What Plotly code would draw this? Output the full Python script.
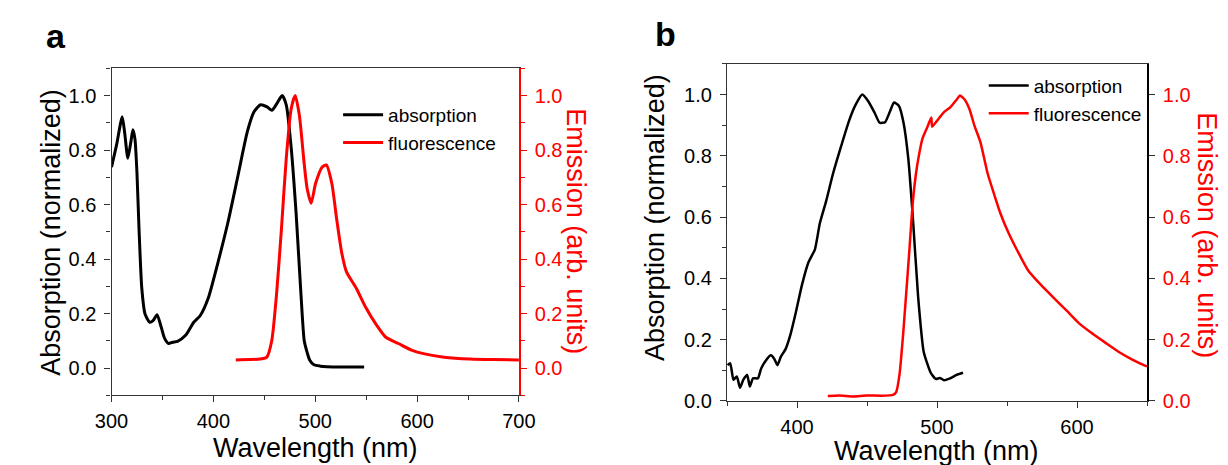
import plotly.graph_objects as go

# ---------------- data ----------------
# Panel a
abs_a_wl = [300, 305, 310.5, 313, 316, 319, 321, 323, 325, 327, 329.7, 332.9, 337.6, 341, 344.7,
            348.8, 352, 356, 360, 364.8, 372.7, 380.7, 387, 395, 404.6, 414.2, 423.8, 433.4, 439.9,
            446.3, 452.7, 457.5, 462.3, 467.5, 471.6, 476.4, 481.2, 486, 489.2, 492.3, 494.5, 498.7,
            505, 511.5, 530, 548]
abs_a = [0.737, 0.82, 0.922, 0.86, 0.77, 0.83, 0.874, 0.84, 0.713, 0.509, 0.293, 0.198, 0.168, 0.175,
         0.196, 0.15, 0.11, 0.09, 0.095, 0.098, 0.12, 0.168, 0.192, 0.257, 0.389, 0.533, 0.70, 0.868,
         0.94, 0.966, 0.958, 0.946, 0.97, 1.0, 0.965, 0.808, 0.569, 0.27, 0.10, 0.054, 0.03, 0.012,
         0.007, 0.005, 0.004, 0.004]

fl_a_wl = [422, 435, 446, 452.5, 457.3, 462, 466.8, 471.6, 476.4, 480.3, 484.4, 489.2, 492, 496,
           500.3, 506.7, 510.9, 516.3, 521.1, 525.9, 530.7, 540.3, 549.8, 559.4, 569, 581.7, 594.5,
           607.3, 626.4, 652, 675, 700]
fl_a = [0.03, 0.031, 0.033, 0.04, 0.10, 0.27, 0.51, 0.772, 0.952, 1.0, 0.928, 0.748, 0.66, 0.605,
        0.677, 0.737, 0.745, 0.677, 0.545, 0.425, 0.353, 0.293, 0.221, 0.162, 0.114, 0.09, 0.066,
        0.052, 0.04, 0.033, 0.031, 0.03]

# Panel b
abs_b_wl = [350.4, 352.3, 354.6, 357, 359.3, 361.6, 364.4, 366.3, 368.6, 372.1, 374.4, 377.9, 381.4,
            383.7, 386, 388.4, 391.9, 395.4, 398.8, 403.5, 408.1, 412.8, 416.3, 420.9, 425.6, 431.4,
            437.2, 441.9, 446.6, 451.2, 455.5, 459, 462.9, 466.3, 469.3, 472.8, 476, 479.5, 483,
            486.5, 490.5, 495.4, 499, 502, 505, 509.3, 514, 518.6]
abs_b = [0.117, 0.123, 0.069, 0.08, 0.043, 0.069, 0.085, 0.047, 0.074, 0.074, 0.106, 0.133, 0.149,
         0.138, 0.117, 0.144, 0.17, 0.218, 0.282, 0.378, 0.452, 0.495, 0.58, 0.654, 0.74, 0.83,
         0.915, 0.967, 1.0, 0.976, 0.94, 0.908, 0.91, 0.944, 0.974, 0.963, 0.91, 0.79, 0.58,
         0.34, 0.16, 0.093, 0.072, 0.075, 0.068, 0.074, 0.085, 0.092]

fl_b_wl = [422, 430, 440, 450, 460, 468.6, 470.9, 473.3, 475.6, 477.9, 480.3, 482.6, 484.9, 487,
           489.6, 493.1, 495.9, 496.5, 500.1, 504.8, 509.4, 514.1, 516.4, 519.7, 523.2, 526.7, 531,
           536, 540.7, 545.3, 551.1, 558.1, 565.1, 574.4, 583.7, 593, 602.3, 611.6, 620.9, 630.2,
           639.5, 647.7, 650]
fl_b = [0.016, 0.018, 0.015, 0.018, 0.017, 0.02, 0.03, 0.09, 0.207, 0.346, 0.495, 0.644, 0.74, 0.80,
        0.856, 0.894, 0.925, 0.895, 0.915, 0.942, 0.958, 0.984, 0.997, 0.984, 0.952, 0.899, 0.845,
        0.745, 0.676, 0.612, 0.548, 0.484, 0.426, 0.378, 0.335, 0.293, 0.25, 0.218, 0.188, 0.159,
        0.135, 0.117, 0.113]

series_names = ["absorption", "fluorescence"]
panel_labels = ["a", "b"]
x_title = "Wavelength (nm)"
y_left_title = "Absorption (normalized)"
y_right_title = "Emission (arb. units)"

# ---------------- figure ----------------
W, H = 1228, 465
FONT = "Liberation Sans, Arial, sans-serif"
BLACK = "#000000"
RED = "#ff0000"
AX = "#333333"

def px(x):
    return x / W

def py(y):
    return 1 - y / H

fig = go.Figure()
fig.add_trace(go.Scatter(x=abs_a_wl, y=abs_a, name=series_names[0], mode="lines",
                         line=dict(color=BLACK, width=3, shape="spline", smoothing=0.6),
                         xaxis="x", yaxis="y", legend="legend"))
fig.add_trace(go.Scatter(x=fl_a_wl, y=fl_a, name=series_names[1], mode="lines",
                         line=dict(color=RED, width=3, shape="spline", smoothing=0.6),
                         xaxis="x", yaxis="y2", legend="legend"))
fig.add_trace(go.Scatter(x=abs_b_wl, y=abs_b, name=series_names[0], mode="lines",
                         line=dict(color=BLACK, width=2.5, shape="spline", smoothing=0.5),
                         xaxis="x2", yaxis="y3", legend="legend2"))
fig.add_trace(go.Scatter(x=fl_b_wl, y=fl_b, name=series_names[1], mode="lines",
                         line=dict(color=RED, width=2.5, shape="spline", smoothing=0.5),
                         xaxis="x2", yaxis="y4", legend="legend2"))

tickfont = dict(family=FONT, size=20, color=BLACK)
redtickfont = dict(family=FONT, size=20, color=RED)

dom_ax = [px(89), px(508)]
dom_ay = [py(396.7), py(61.7)]
dom_bx = [px(722), px(1154)]
dom_by = [py(402.5), py(57.3)]

common_x = dict(showgrid=False, zeroline=False, showline=True, linewidth=1.3, linecolor=AX,
                mirror=True, ticks="outside", ticklen=6, tickwidth=1.3, tickcolor=AX,
                tickfont=tickfont, ticklabelstandoff=2)

fig.update_layout(
    width=W, height=H, margin=dict(l=0, r=0, t=0, b=0),
    paper_bgcolor="white", plot_bgcolor="white",
    font=dict(family=FONT, color=BLACK),
    xaxis=dict(domain=dom_ax, anchor="y", range=[300, 700], tick0=0, dtick=100,
               minor=dict(dtick=50, ticklen=4, tickcolor=AX, ticks="outside", showgrid=False),
               **common_x),
    yaxis=dict(domain=dom_ay, anchor="x", range=[-0.1, 1.1], tick0=0, dtick=0.2, tickformat=".1f",
               showgrid=False, zeroline=False, showline=True, linewidth=1.3, linecolor=AX,
               ticks="outside", ticklen=6, tickwidth=1.3, tickcolor=AX, tickfont=tickfont,
               ticklabelstandoff=4,
               minor=dict(dtick=0.1, ticklen=4, tickcolor=AX, ticks="outside", showgrid=False)),
    yaxis2=dict(domain=dom_ay, anchor="x", overlaying="y", side="right", range=[-0.1, 1.1],
                tick0=0, dtick=0.2, tickformat=".1f", showgrid=False, zeroline=False,
                showline=True, linewidth=1.5, linecolor=RED, ticks="outside", ticklen=6,
                tickwidth=1.3, tickcolor=RED, tickfont=redtickfont, ticklabelstandoff=4,
                minor=dict(dtick=0.1, ticklen=4, tickcolor=RED, ticks="outside", showgrid=False)),
    xaxis2=dict(domain=dom_bx, anchor="y3", range=[350, 650], tick0=0, dtick=100,
                minor=dict(dtick=50, ticklen=4, tickcolor=AX, ticks="outside", showgrid=False),
                **common_x),
    yaxis3=dict(domain=dom_by, anchor="x2", range=[0, 1.1], tick0=0, dtick=0.2, tickformat=".1f",
                showgrid=False, zeroline=False, showline=True, linewidth=1.3, linecolor=AX,
                ticks="outside", ticklen=6, tickwidth=1.3, tickcolor=AX, tickfont=tickfont,
                ticklabelstandoff=4,
                minor=dict(dtick=0.1, ticklen=4, tickcolor=AX, ticks="outside", showgrid=False)),
    yaxis4=dict(domain=dom_by, anchor="x2", overlaying="y3", side="right", range=[0, 1.1],
                tick0=0, dtick=0.2, tickformat=".1f", showgrid=False, zeroline=False,
                showline=True, linewidth=1.5, linecolor=BLACK, ticks="outside", ticklen=6,
                tickwidth=1.3, tickcolor=AX, tickfont=redtickfont, ticklabelstandoff=4),
    legend=dict(x=px(322), y=py(90), xanchor="left", yanchor="top", bgcolor="rgba(0,0,0,0)",
                font=dict(family=FONT, size=19, color=BLACK), tracegroupgap=0, itemwidth=40),
    legend2=dict(x=px(986), y=py(60), xanchor="left", yanchor="top", bgcolor="rgba(0,0,0,0)",
                 font=dict(family=FONT, size=19, color=BLACK), tracegroupgap=0, itemwidth=40),
    showlegend=True,
)

ann = []
def add_text(text, x, y, size, color=BLACK, angle=0, bold=False):
    ann.append(dict(text=f"<b>{text}</b>" if bold else text, x=px(x), y=py(y), xref="paper",
                    yref="paper", xanchor="center", yanchor="middle", showarrow=False,
                    textangle=angle, font=dict(family=FONT, size=size, color=color)))

add_text(panel_labels[0], 32, 29, 34, bold=True)
add_text(panel_labels[1], 659, 27, 34, bold=True)
add_text(y_left_title, 26, 230, 27, angle=-90)
add_text(x_title, 299, 451, 27)
add_text(y_right_title, 567, 229, 27, color=RED, angle=90)
add_text(y_left_title, 648, 215, 27, angle=-90)
add_text(x_title, 937, 454, 27)
add_text(y_right_title, 1215, 233, 27, color=RED, angle=90)
fig.update_layout(annotations=ann)

fig.write_html("out.html")
